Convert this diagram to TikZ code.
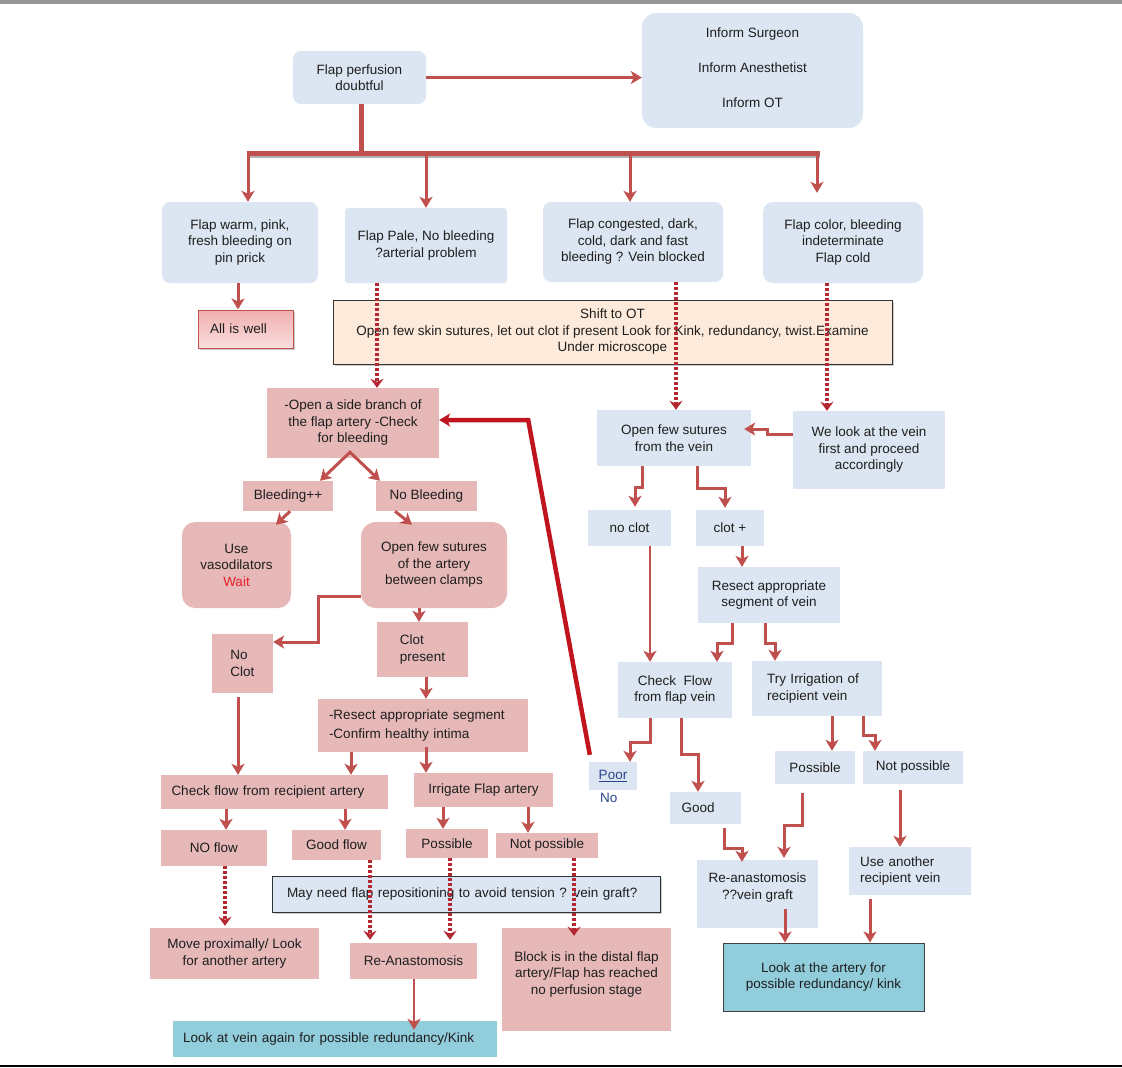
\documentclass[tikz,border=0pt]{standalone}
\usepackage{fontspec}
\setmainfont{Liberation Sans}
\usetikzlibrary{arrows.meta,shadows,calc}
\definecolor{lblue}{RGB}{220,230,242}
\definecolor{pinkc}{RGB}{230,185,184}
\definecolor{peach}{RGB}{253,234,218}
\definecolor{tealc}{RGB}{146,205,220}
\definecolor{ared}{RGB}{192,80,77}
\definecolor{dred}{RGB}{180,40,50}
\definecolor{bigred}{RGB}{192,20,30}
\definecolor{txt}{RGB}{30,30,30}
\definecolor{waitred}{RGB}{230,30,40}
\definecolor{linkblue}{RGB}{40,70,140}
\definecolor{wellT}{RGB}{240,175,175}
\definecolor{wellB}{RGB}{250,222,222}
\definecolor{graybar}{RGB}{150,150,150}
\newcommand\mkbox[7]{%
  \node[#6, minimum width={#4pt-#2pt}, minimum height={#5pt-#3pt}] (#1) at ({(#2+#4)/2},{(#3+#5)/2}) {#7};}
\begin{document}
\begin{tikzpicture}[x=1pt,y=-1pt,
  every node/.style={font=\fontsize{13.5}{16.5}\selectfont, text=txt, inner sep=0pt, align=center},
  mytip/.tip={Stealth[length=11pt,width=13pt,inset=3pt]},
  bl/.style={fill=lblue},
  blr/.style={fill=lblue, rounded corners=8pt},
  pk/.style={fill=pinkc},
  pkr/.style={fill=pinkc, rounded corners=13pt},
  arr/.style={draw=ared, line width=3pt, -mytip},
  thinarr/.style={arr, line width=2.2pt},
  dotarr/.style={draw=dred, line width=4pt, dash pattern=on 3pt off 2pt, -{Stealth[length=9pt,width=13pt,inset=3pt]}},
  bigarr/.style={draw=bigred, line width=4.5pt, -mytip},
  shd/.style={drop shadow={shadow xshift=2pt,shadow yshift=-2pt,opacity=0.35,fill=black!60}},
]
\useasboundingbox (0,0) rectangle (1122,1068);
\fill[graybar] (0,0) rectangle (1122,4);
\draw[black, line width=2pt] (0,1066) -- (1122,1066);

% ---------- top ----------
\mkbox{perf}{293}{51}{426}{104}{blr}{Flap perfusion\\doubtful}
\mkbox{inform}{642}{13}{863}{128}{bl,rounded corners=14pt}{}
\node (informt) at (752.5,67.5) {Inform Surgeon\\[18.5pt]Inform Anesthetist\\[18.5pt]Inform OT};
\mkbox{warm}{162}{202}{318}{283}{blr}{Flap warm, pink,\\fresh bleeding on\\pin prick}
\mkbox{pale}{345}{208}{507}{283}{bl,rounded corners=3pt}{Flap Pale, No bleeding\\?arterial problem}
\mkbox{cong}{543}{202}{723}{282}{blr}{Flap congested, dark,\\cold, dark and fast\\bleeding ? Vein blocked}
\mkbox{color}{763}{202}{923}{283}{blr,rounded corners=10pt}{Flap color, bleeding\\indeterminate\\Flap cold}
\mkbox{allwell}{198}{310}{293}{348}{draw=ared,line width=1pt,top color=wellT,bottom color=wellB,shd,text width=71pt,align=left}{All is well}
\mkbox{ot}{333}{300}{892}{364}{fill=peach,draw=black!80,line width=0.8pt,shd}{Shift to OT\\Open few skin sutures, let out clot if present Look for Kink, redundancy, twist.Examine\\Under microscope}

% ---------- left (artery) ----------
\mkbox{side}{267}{388}{439}{458}{pk}{-Open a side branch of\\the flap artery -Check\\for bleeding}
\mkbox{bleed}{243}{481}{333}{511}{pk}{Bleeding++}
\mkbox{nobleed}{376}{481}{477}{511}{pk}{No Bleeding}
\mkbox{vaso}{182}{522}{291}{608}{pkr}{Use\\vasodilators\\\textcolor{waitred}{Wait}}
\mkbox{openart}{361}{522}{507}{608}{pkr,rounded corners=15pt}{Open few sutures\\of the artery\\between clamps}
\mkbox{noclotL}{212}{634}{273}{693}{pk,align=left}{No\\Clot}
\mkbox{clotpres}{377}{622}{468}{677}{pk,align=left}{Clot\\present}
\mkbox{resect}{318}{699}{528}{752}{pk,text width=188pt,align=left}{-Resect appropriate segment\\[2.5pt]-Confirm healthy intima}
\mkbox{checkrec}{161}{775}{388}{809}{pk,text width=206pt,align=left}{Check flow from recipient artery}
\mkbox{irrigate}{414}{773}{553}{807}{pk}{Irrigate Flap artery}
\mkbox{noflow}{161}{830}{267}{866}{pk}{NO flow}
\mkbox{goodflow}{292}{830}{381}{860}{pk}{Good flow}
\mkbox{possL}{406}{829}{488}{858}{pk}{Possible}
\mkbox{notpossL}{496}{833}{598}{858}{pk}{Not possible}
\mkbox{mayneed}{272}{876}{660}{912}{fill=lblue,draw=black!80,line width=0.8pt,shd,text width=358pt,align=left}{May need flap repositioning to avoid tension ? vein graft?}
\mkbox{move}{150}{928}{319}{979}{pk}{Move proximally/ Look\\for another artery}
\mkbox{reanastL}{350}{943}{477}{979}{pk}{Re-Anastomosis}
\mkbox{block}{502}{928}{671}{1031}{pk}{}
\node (blockt) at (586.5,974) {Block is in the distal flap\\artery/Flap has reached\\no perfusion stage};
\mkbox{lookvein}{173}{1021}{497}{1057}{fill=tealc,text width=304pt,align=left}{Look at vein again for possible redundancy/Kink}

% ---------- right (vein) ----------
\mkbox{openvein}{597}{410}{751}{466}{bl}{Open few sutures\\from the vein}
\mkbox{welook}{793}{411}{945}{489}{bl}{We look at the vein\\first and proceed\\accordingly}
\mkbox{noclotR}{588}{510}{671}{546}{bl}{no clot}
\mkbox{clotplus}{696}{510}{764}{546}{bl}{clot +}
\mkbox{resectvein}{698}{567}{840}{623}{bl}{Resect appropriate\\segment of vein}
\mkbox{checkflow}{618}{662}{732}{718}{bl}{Check\ \ Flow\\from flap vein}
\mkbox{tryirr}{752}{661}{882}{716}{bl,text width=100pt,align=left}{Try Irrigation of\\recipient vein}
\mkbox{poor}{589}{762}{637}{790}{bl,text=linkblue}{\underline{Poor}}
\node[text=linkblue, anchor=west] (nolab) at (600,798) {No};
\mkbox{good}{670}{792}{741}{824}{bl,text width=48pt,align=left}{Good}
\mkbox{possR}{775}{751}{855}{784}{bl}{Possible}
\mkbox{notpossR}{863}{751}{963}{784}{bl}{Not possible}
\mkbox{reanastR}{697}{860}{818}{928}{bl}{}
\node (reanastRt) at (757.5,887.5) {Re-anastomosis\\??vein graft};
\mkbox{useanother}{849}{847}{971}{895}{bl,text width=100pt,align=left}{Use another\\recipient vein}
\mkbox{lookart}{723}{943}{924}{1011}{fill=tealc,draw=black!75,line width=1pt}{Look at the artery for\\possible redundancy/ kink}

% ---------- connectors: top ----------
\draw[arr, line width=3.5pt] (perf.east) -- (perf.east -| inform.west);
\coordinate (bar) at ([xshift=1.5pt,yshift=-49pt]perf.south);
\draw[ared, line width=5pt] ([xshift=1.5pt]perf.south) -- (bar);
\coordinate (w1) at ([xshift=8pt]warm.north);
\coordinate (p1) at (pale.north);
\coordinate (c1) at ([xshift=-3pt]cong.north);
\coordinate (k1) at ([xshift=-26pt]color.north);
\coordinate (barL) at (w1 |- bar);
\coordinate (barR) at (k1 |- bar);
\draw[black!30, line width=3pt] ($(barL)+(0pt,-3.5pt)$) -- ($(barR)+(3pt,-3.5pt)$);
\draw[ared, line width=5pt] ($(barL)+(-1.5pt,0pt)$) -- ($(barR)+(3pt,0pt)$);
\draw[arr] (barL) -- (w1);
\draw[arr] (p1 |- bar) -- (p1);
\draw[arr] (c1 |- bar) -- (c1);
\draw[arr] (barR) -- ($(k1)+(0pt,9pt)$);
\coordinate (w2) at ([xshift=-2pt]warm.south);
\draw[arr] (w2) -- (w2 |- allwell.north);
\coordinate (p2) at ([xshift=-49pt]pale.south);
\draw[dotarr] (p2) -- (p2 |- side.north);
\coordinate (c2) at ([xshift=43pt]cong.south);
\draw[dotarr] (c2) -- (c2 |- openvein.north);
\coordinate (k2) at ([xshift=-16pt]color.south);
\draw[dotarr] (k2) -- (k2 |- welook.north);

% ---------- connectors: artery side ----------
\coordinate (apex) at ([shift={(-3pt,6pt)}]side.south);
\draw[arr, mytip-mytip] ([xshift=32pt]bleed.north) -- (apex) -- ([xshift=-46.5pt]nobleed.north);
\draw[arr] ([xshift=2pt]bleed.south) -- ([shift={(39.5pt,-3pt)}]vaso.north);
\draw[arr] ([xshift=-31.5pt]nobleed.south) -- ([shift={(-22pt,-3pt)}]openart.north);
\draw[arr] ([yshift=-31pt]openart.west) -| ([shift={(45pt,21.5pt)}]noclotL.east) -- ([yshift=21.5pt]noclotL.east);
\coordinate (o1) at ([xshift=-15pt]openart.south);
\draw[arr] (o1) -- (o1 |- clotpres.north);
\coordinate (o2) at ([xshift=3.5pt]clotpres.south);
\draw[arr] (o2) -- (o2 |- resect.north);
\coordinate (o3) at ([xshift=-72pt]resect.south);
\draw[arr] (o3) -- (o3 |- checkrec.north);
\coordinate (o4) at ([xshift=3pt,yshift=5pt]resect.south);
\draw[arr] (o4) -- (o4 |- irrigate.north);
\coordinate (o5) at ([xshift=-4.5pt,yshift=-4pt]noclotL.south);
\draw[arr] (o5) -- (o5 |- checkrec.north);
\coordinate (o6) at ([xshift=-48.5pt]checkrec.south);
\draw[arr] (o6) -- (o6 |- noflow.north);
\coordinate (o7) at ([xshift=70.5pt]checkrec.south);
\draw[arr] (o7) -- (o7 |- goodflow.north);
\coordinate (o8) at ([xshift=-40.5pt]irrigate.south);
\draw[arr] (o8) -- (o8 |- possL.north);
\coordinate (o9) at ([xshift=44.5pt]irrigate.south);
\draw[arr] (o9) -- (o9 |- notpossL.north);
\coordinate (d1) at ([xshift=11pt]noflow.south);
\draw[dotarr] (d1) -- ($(d1 |- move.north)+(0pt,2pt)$);
\coordinate (d2) at ([xshift=33.5pt]goodflow.south);
\draw[dotarr] (d2) -- ($(d2 |- reanastL.north)+(0pt,3pt)$);
\coordinate (d3) at ([xshift=3pt]possL.south);
\draw[dotarr] (d3) -- ($(d3 |- reanastL.north)+(0pt,3pt)$);
\coordinate (d4) at ([xshift=27pt]notpossL.south);
\draw[dotarr] (d4) -- ($(d4 |- block.north)+(0pt,-8pt)$);
\coordinate (o12) at ([xshift=0.5pt]reanastL.south);
\draw[arr, line width=2.5pt] (o12) -- ($(o12 |- lookvein.north)+(0pt,-9pt)$);

% ---------- connectors: vein side ----------
\draw[arr] ([yshift=16pt]welook.west) -- ++(-25pt,0pt) |- ([shift={(-7pt,9pt)}]openvein.east);
\draw[arr] ([xshift=-32pt]openvein.south) -- ++(0pt,-21pt) -| ([shift={(5.5pt,3pt)}]noclotR.north);
\draw[arr] ([xshift=23pt]openvein.south) -- ++(0pt,-22pt) -| ([shift={(-5pt,2pt)}]clotplus.north);
\coordinate (r1) at ([xshift=12pt]clotplus.south);
\draw[arr] (r1) -- (r1 |- resectvein.north);
\coordinate (r2) at ([xshift=20.5pt]noclotR.south);
\draw[thinarr] (r2) -- (r2 |- checkflow.north);
\draw[arr] ([xshift=-37pt]resectvein.south) -- ++(0pt,-20pt) -| ([xshift=42pt]checkflow.north);
\draw[arr] ([xshift=-4pt]resectvein.south) -- ++(0pt,-20pt) -| ([xshift=-42pt]tryirr.north);
\draw[arr] ([xshift=-25pt]checkflow.south) -- ++(0pt,-24pt) -| ([xshift=17pt]poor.north);
\draw[arr] ([xshift=6pt]checkflow.south) -- ++(0pt,-36pt) -| ([xshift=-7.5pt]good.north);
\draw[bigarr] ([shift={(1pt,7pt)}]poor.north west) -- ([shift={(89pt,3pt)}]side.east) -- ([yshift=3pt]side.east);
\coordinate (r3) at ([xshift=15pt]tryirr.south);
\draw[arr] (r3) -- (r3 |- possR.north);
\draw[arr] ([xshift=46pt]tryirr.south) -- ++(0pt,-19pt) -| ([xshift=-38pt]notpossR.north);
\draw[arr] ([shift={(18.5pt,-4pt)}]good.south) -- ++(0pt,-20pt) -| ([shift={(-15.5pt,-2pt)}]reanastR.north);
\draw[arr] ([shift={(-13pt,-9pt)}]possR.south) -- ++(0pt,-32pt) -| ([shift={(26.5pt,2pt)}]reanastR.north);
\coordinate (r4) at ([shift={(-13pt,-6pt)}]notpossR.south);
\draw[arr] (r4) -- (r4 |- useanother.north);
\coordinate (r5) at ([shift={(27.5pt,19pt)}]reanastR.south);
\draw[arr] (r5) -- (r5 |- lookart.north);
\coordinate (r6) at ([shift={(-40pt,-4pt)}]useanother.south);
\draw[arr] (r6) -- (r6 |- lookart.north);
\end{tikzpicture}
\end{document}
